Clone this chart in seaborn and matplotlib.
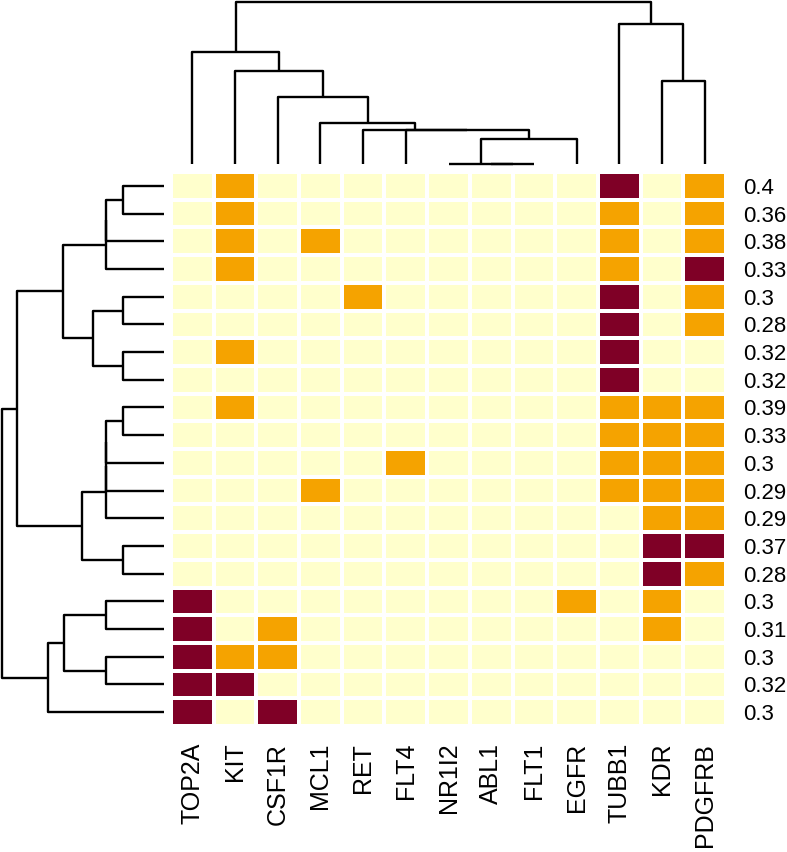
import matplotlib
matplotlib.use("Agg")
import matplotlib.pyplot as plt
import seaborn as sns
import numpy as np
import pandas as pd
from matplotlib.colors import ListedColormap

sns.set_style("white")
plt.rcParams['font.family'] = ['Liberation Sans', 'DejaVu Sans']
plt.rcParams['text.color'] = 'black'
plt.rcParams['xtick.color'] = 'black'
plt.rcParams['ytick.color'] = 'black'

# ---------------- data ----------------
col_labels = ["TOP2A", "KIT", "CSF1R", "MCL1", "RET", "FLT4", "NR1I2",
              "ABL1", "FLT1", "EGFR", "TUBB1", "KDR", "PDGFRB"]
row_labels = ["0.4", "0.36", "0.38", "0.33", "0.3", "0.28", "0.32", "0.32",
              "0.39", "0.33", "0.3", "0.29", "0.29", "0.37", "0.28",
              "0.3", "0.31", "0.3", "0.32", "0.3"]
# 0 = none, 1 = medium, 2 = high
values = [
    [0, 1, 0, 0, 0, 0, 0, 0, 0, 0, 2, 0, 1],
    [0, 1, 0, 0, 0, 0, 0, 0, 0, 0, 1, 0, 1],
    [0, 1, 0, 1, 0, 0, 0, 0, 0, 0, 1, 0, 1],
    [0, 1, 0, 0, 0, 0, 0, 0, 0, 0, 1, 0, 2],
    [0, 0, 0, 0, 1, 0, 0, 0, 0, 0, 2, 0, 1],
    [0, 0, 0, 0, 0, 0, 0, 0, 0, 0, 2, 0, 1],
    [0, 1, 0, 0, 0, 0, 0, 0, 0, 0, 2, 0, 0],
    [0, 0, 0, 0, 0, 0, 0, 0, 0, 0, 2, 0, 0],
    [0, 1, 0, 0, 0, 0, 0, 0, 0, 0, 1, 1, 1],
    [0, 0, 0, 0, 0, 0, 0, 0, 0, 0, 1, 1, 1],
    [0, 0, 0, 0, 0, 1, 0, 0, 0, 0, 1, 1, 1],
    [0, 0, 0, 1, 0, 0, 0, 0, 0, 0, 1, 1, 1],
    [0, 0, 0, 0, 0, 0, 0, 0, 0, 0, 0, 1, 1],
    [0, 0, 0, 0, 0, 0, 0, 0, 0, 0, 0, 2, 2],
    [0, 0, 0, 0, 0, 0, 0, 0, 0, 0, 0, 2, 1],
    [2, 0, 0, 0, 0, 0, 0, 0, 0, 1, 0, 1, 0],
    [2, 0, 1, 0, 0, 0, 0, 0, 0, 0, 0, 1, 0],
    [2, 1, 1, 0, 0, 0, 0, 0, 0, 0, 0, 0, 0],
    [2, 2, 0, 0, 0, 0, 0, 0, 0, 0, 0, 0, 0],
    [2, 0, 2, 0, 0, 0, 0, 0, 0, 0, 0, 0, 0],
]
# dendrograms as nested [height, left, right]; ints are leaf indices
col_tree = [162,
            [112, 0, [93, 1, [67, 2, [41, 3, [34, 4, [33.6, 5,
                [25, [0, 6, [0, 7, 8]], 9]]]]]]],
            [140, 10, [83, 11, 12]]]
row_tree = [162,
            [147,
             [101,
              [58, [58, [41, 0, 1], 2], 3],
              [71, [41, 4, 5], [41, 6, 7]]],
             [82,
              [58, [58, [58, [41, 8, 9], 10], 11], 12],
              [41, 13, 14]]],
            [116, [100, [58, 15, 16], [58, 17, 18]], 19]]

colors = ["#FFFFCC", "#F5A300", "#7F0026"]

# ---------------- figure ----------------
W, H = 787, 852
fig = plt.figure(figsize=(W / 100, H / 100), dpi=100)


def box(x0, y0, x1, y1):
    return [x0 / W, 1 - y1 / H, (x1 - x0) / W, (y1 - y0) / H]


ax_hm = fig.add_axes(box(171, 172, 726, 726))
ax_top = fig.add_axes(box(171, 2, 726, 164))
ax_left = fig.add_axes(box(2, 172, 164, 726))

df = pd.DataFrame(values, index=row_labels, columns=col_labels)
sns.heatmap(df, ax=ax_hm, cmap=ListedColormap(colors), vmin=-0.5, vmax=2.5,
            cbar=False, linewidths=1.5, linecolor="white",
            xticklabels=col_labels, yticklabels=row_labels)
ax_hm.yaxis.tick_right()
ax_hm.tick_params(axis="both", length=0, pad=12, colors="black")
ax_hm.set_yticklabels(row_labels, rotation=0, ha="left", fontsize=16,
                      color="black")
ax_hm.set_xticklabels(col_labels, rotation=90, va="top", fontsize=18,
                      color="black")
ax_hm.set_xlabel("")
ax_hm.set_ylabel("")


def draw(ax, node, orient):
    if isinstance(node, int):
        return node + 0.5, 0.0
    h, l, r = node
    pl, hl = draw(ax, l, orient)
    pr, hr = draw(ax, r, orient)
    pos = [pl, pl, pr, pr]
    hts = [hl, h, h, hr]
    if orient == "top":
        ax.plot(pos, hts, color="black", lw=1.7, clip_on=False,
                solid_capstyle="butt")
    else:
        ax.plot(hts, pos, color="black", lw=1.7, clip_on=False,
                solid_capstyle="butt")
    return (pl + pr) / 2, h


draw(ax_top, col_tree, "top")
ax_top.set_xlim(0, len(col_labels))
ax_top.set_ylim(0, 162)
ax_top.axis("off")

draw(ax_left, row_tree, "left")
ax_left.set_ylim(len(row_labels), 0)
ax_left.set_xlim(162, 0)
ax_left.axis("off")

fig.savefig("out.png", dpi=100)
